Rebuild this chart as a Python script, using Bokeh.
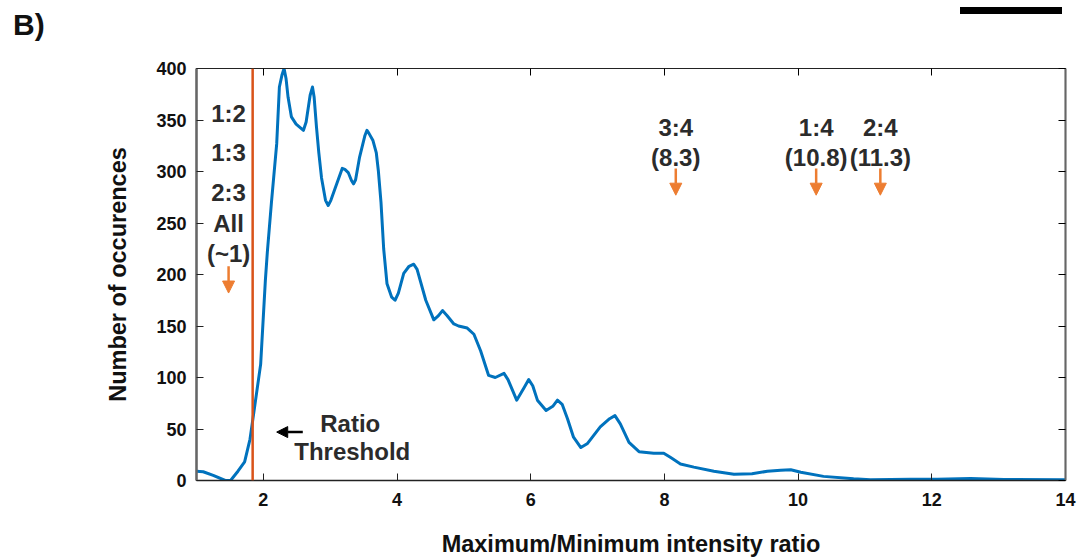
from bokeh.plotting import figure
from bokeh.layouts import column
from bokeh.models import (Range1d, LinearAxis, FixedTicker, Span, Label, Arrow,
                          NormalHead, Div)
from bokeh.embed import file_html
from bokeh.resources import INLINE

# ---------------- data ----------------
ratio = [1.00, 1.10, 1.25, 1.43, 1.51, 1.62, 1.72, 1.80, 1.84, 1.96, 2.03, 2.06,
         2.12, 2.20, 2.24, 2.28, 2.31, 2.34, 2.37, 2.42, 2.49, 2.60, 2.64, 2.70,
         2.735, 2.76, 2.795, 2.83, 2.87, 2.93, 2.97, 3.01, 3.07, 3.18, 3.22, 3.27, 3.32,
         3.35, 3.38, 3.44, 3.52, 3.55, 3.58, 3.64, 3.69, 3.72, 3.76, 3.80, 3.85, 3.92,
         3.97, 4.02, 4.10, 4.18, 4.25, 4.30, 4.43, 4.55, 4.62, 4.68, 4.75, 4.85,
         4.92, 5.05, 5.15, 5.25, 5.37, 5.47, 5.60, 5.66, 5.79, 5.90, 5.97, 6.03,
         6.10, 6.23, 6.33, 6.40, 6.47, 6.55, 6.64, 6.75, 6.85, 7.04, 7.18, 7.26,
         7.34, 7.47, 7.62, 7.84, 7.99, 8.10, 8.24, 8.44, 8.74, 9.04, 9.31, 9.54,
         9.74, 9.89, 10.04, 10.38, 10.83, 11.08, 11.68, 12.08, 12.58, 13.08, 14.00]
occurrences = [9, 8.5, 5, 0, 0, 9, 18, 40, 58, 113, 194, 222,
               269, 327, 382, 394, 400, 390, 372, 353, 346, 340, 348, 374,
               382, 372, 343, 318, 294, 272, 267, 272, 283, 303, 302, 299, 291,
               288, 292, 314, 335, 340, 337, 330, 318, 301, 270, 225, 191, 178,
               175, 182, 201, 208, 210, 205, 175, 156, 160, 165, 160, 152,
               150, 148, 142, 126, 102, 100, 104, 98, 78, 90, 98, 92,
               78, 68, 72, 78, 74, 60, 42, 32, 36, 52, 60, 63,
               55, 37, 28, 26.5, 26.5, 22, 16, 13, 9, 6, 6.5, 9,
               10, 10.4, 8, 4, 1.6, 0.7, 1.3, 1.3, 2, 1, 0.7]

ratio_threshold = 1.84
x_ticks = [2, 4, 6, 8, 10, 12, 14]
y_ticks = [0, 50, 100, 150, 200, 250, 300, 350, 400]

# annotation groups
low_group_x = 1.48
low_group_lines = [("1:2", 356), ("1:3", 318), ("2:3", 280), ("All", 250), ("(~1)", 220)]
low_arrow = (208, 182)
high_groups = [("3:4", "(8.3)", 8.17), ("1:4", "(10.8)", 10.27), ("2:4", "(11.3)", 11.23)]
high_label_y = (343, 314)
high_arrow = (303, 277)

panel_letter = "B)"

FONT = "Liberation Sans"
BLUE = "#0072BD"
RED = "#D95319"
ORANGE = "#ED7D31"
TXT = "#2b2b2b"

HEADER_H = 50

# ---------------- header (panel letter + scale bar) ----------------
header_html = (
    '<div style="position:relative;width:1079px;height:%dpx;margin:0;padding:0;">'
    '<span style="position:absolute;left:13px;top:8px;font-family:\'Liberation Sans\';'
    'font-weight:bold;font-size:30px;line-height:34px;color:#111;">%s</span>'
    '<div style="position:absolute;left:960px;top:7px;width:102px;height:7px;'
    'background:#000;"></div></div>' % (HEADER_H, panel_letter)
)
h = Div(text=header_html, width=1079, height=HEADER_H, margin=0,
        styles={"padding": "0", "margin": "0"})

# ---------------- main ----------------
p = figure(width=1079, height=560 - HEADER_H, x_range=Range1d(1, 14), y_range=Range1d(0, 400),
           output_backend="svg", toolbar_location=None,
           min_border_left=196, min_border_right=14, min_border_top=68 - HEADER_H,
           min_border_bottom=80)
p.grid.visible = False
p.outline_line_color = "#222222"
p.outline_line_width = 1.2

for ax in (p.xaxis[0], p.yaxis[0]):
    ax.major_tick_in = 7
    ax.major_tick_out = 0
    ax.minor_tick_line_color = None
    ax.major_label_text_font = FONT
    ax.major_label_text_font_style = "bold"
    ax.major_label_text_font_size = "18px"
    ax.major_label_text_color = "#111111"
    ax.axis_label_text_font = FONT
    ax.axis_label_text_font_style = "bold"
    ax.axis_label_text_font_size = "23.5px"
    ax.axis_label_text_color = "#111111"
    ax.major_tick_line_color = "#222222"

p.xaxis.ticker = FixedTicker(ticks=x_ticks)
p.yaxis.ticker = FixedTicker(ticks=y_ticks)
p.xaxis.axis_label = "Maximum/Minimum intensity ratio"
p.yaxis.axis_label = "Number of occurences"
p.xaxis.major_label_standoff = 12
p.xaxis.axis_label_standoff = 22
p.yaxis.major_label_standoff = 10
p.yaxis.axis_label_standoff = 22
p.xaxis.axis_line_color = "#222222"
p.xaxis.axis_line_width = 1.5
p.yaxis.axis_line_color = "#666666"
p.yaxis.axis_line_width = 2.5

top_ax = LinearAxis(ticker=FixedTicker(ticks=x_ticks), major_tick_in=7, major_tick_out=0,
                    minor_tick_line_color=None, major_label_text_font_size="1px",
                    major_label_text_color=None, major_label_standoff=0,
                    axis_line_color="#222222")
right_ax = LinearAxis(ticker=FixedTicker(ticks=y_ticks), major_tick_in=7, major_tick_out=0,
                      minor_tick_line_color=None, major_label_text_font_size="1px",
                      major_label_text_color=None, major_label_standoff=0,
                      axis_line_color="#666666", axis_line_width=2)
p.add_layout(top_ax, "above")
p.add_layout(right_ax, "right")

p.line(ratio, occurrences, line_color=BLUE, line_width=3, line_join="round")

p.add_layout(Span(location=ratio_threshold, dimension="height", line_color=RED, line_width=2.5))

def lab(x, y, t, size="24px"):
    p.add_layout(Label(x=x, y=y, text=t, text_font=FONT, text_font_style="bold",
                       text_font_size=size, text_color=TXT, text_align="center",
                       text_baseline="middle"))

for t, y in low_group_lines:
    lab(low_group_x, y, t)
p.add_layout(Arrow(end=NormalHead(size=12, fill_color=ORANGE, line_color=ORANGE),
                   x_start=low_group_x, y_start=low_arrow[0], x_end=low_group_x, y_end=low_arrow[1],
                   line_color=ORANGE, line_width=2.5))
for top, bottom, x in high_groups:
    lab(x, high_label_y[0], top)
    lab(x, high_label_y[1], bottom)
    p.add_layout(Arrow(end=NormalHead(size=12, fill_color=ORANGE, line_color=ORANGE),
                       x_start=x, y_start=high_arrow[0], x_end=x, y_end=high_arrow[1],
                       line_color=ORANGE, line_width=2.5))

lab(3.30, 55, "Ratio")
lab(3.33, 28, "Threshold")
p.add_layout(Arrow(end=NormalHead(size=11, fill_color="black", line_color="black"),
                   x_start=2.59, y_start=47, x_end=2.20, y_end=47,
                   line_color="black", line_width=2.5))

layout = column(h, p, spacing=0)
open("out.html", "w").write(file_html(layout, INLINE))
